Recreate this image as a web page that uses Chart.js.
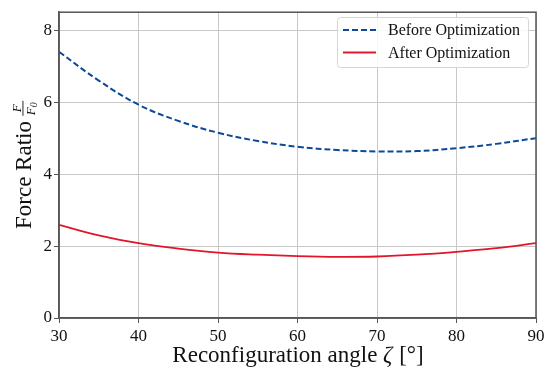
<!DOCTYPE html>
<html>
<head>
<meta charset="utf-8">
<script src="https://cdn.jsdelivr.net/npm/chart.js@4"></script>
<style>
  html, body { margin: 0; padding: 0; background: #fff; }
  #wrap { width: 550px; height: 374px; }
</style>
</head>
<body>
<div id="wrap"><canvas id="force"></canvas></div>
<script>
const angles = [30, 35, 40, 45, 50, 55, 60, 65, 70, 75, 80, 85, 90];
const beforeOpt = [7.40, 6.60, 5.93, 5.48, 5.15, 4.92, 4.76, 4.67, 4.63, 4.64, 4.72, 4.84, 5.00];
const afterOpt = [2.59, 2.30, 2.08, 1.93, 1.82, 1.76, 1.72, 1.70, 1.71, 1.76, 1.84, 1.94, 2.08];
const seriesNames = ['Before Optimization', 'After Optimization'];
const xTicks = [30, 40, 50, 60, 70, 80, 90];
const yTicks = [0, 2, 4, 6, 8];

const serif = '"Liberation Serif", "Times New Roman", serif';
const blue = '#0c4a97';
const red = '#e2162b';

// frame, axis titles and legend drawn by hand (fraction + italic zeta)
const decor = {
    id: 'decor',
    afterDraw(chart) {
        const { ctx, chartArea: a } = chart;
        ctx.save();
        ctx.strokeStyle = '#555';
        ctx.lineWidth = 1.5;
        ctx.strokeRect(a.left, a.top, a.right - a.left, a.bottom - a.top);

        // x title
        ctx.fillStyle = '#111';
        ctx.textBaseline = 'alphabetic';
        const p1 = 'Reconfiguration angle ', p2 = 'ζ', p3 = ' [°]';
        ctx.font = '23px ' + serif;
        const w1 = ctx.measureText(p1).width, w3 = ctx.measureText(p3).width;
        ctx.font = 'italic 23px ' + serif;
        const w2 = ctx.measureText(p2).width;
        let x = (a.left + a.right) / 2 - (w1 + w2 + w3) / 2;
        const yb = 362;
        ctx.font = '23px ' + serif;
        ctx.fillText(p1, x, yb);
        ctx.font = 'italic 23px ' + serif;
        ctx.fillText(p2, x + w1, yb);
        ctx.font = '23px ' + serif;
        ctx.fillText(p3, x + w1 + w2 + 1, yb);

        // y title
        ctx.save();
        ctx.translate(31, 229);
        ctx.rotate(-Math.PI / 2);
        ctx.font = '23px ' + serif;
        const t = 'Force Ratio ';
        ctx.fillText(t, 0, 0);
        const tw = ctx.measureText(t).width;
        ctx.font = 'italic 13px ' + serif;
        const fw = ctx.measureText('F').width;
        ctx.font = 'italic 10px ' + serif;
        const sw = ctx.measureText('0').width;
        const fracW = fw + sw + 1;
        const fx = tw;
        ctx.font = 'italic 13px ' + serif;
        ctx.fillText('F', fx + (fracW - fw) / 2, -10);
        ctx.fillText('F', fx, 4);
        ctx.font = 'italic 10px ' + serif;
        ctx.fillText('0', fx + fw, 6);
        ctx.fillRect(fx - 0.5, -8.5, fracW + 1, 0.9);
        ctx.restore();

        // legend
        const lx = 337, ly = 17, lw = 191, lh = 50;
        ctx.fillStyle = 'rgba(255,255,255,0.85)';
        ctx.strokeStyle = '#d6d6d6';
        ctx.lineWidth = 1;
        ctx.beginPath();
        ctx.roundRect(lx + 0.5, ly + 0.5, lw, lh, 3);
        ctx.fill();
        ctx.stroke();
        const rows = [[blue, [6, 3]], [red, []]];
        ctx.font = '16px ' + serif;
        ctx.textBaseline = 'middle';
        rows.forEach((r, i) => {
            const cy = ly + 13 + i * 22.5;
            ctx.strokeStyle = r[0];
            ctx.lineWidth = 2;
            ctx.setLineDash(r[1]);
            ctx.beginPath();
            ctx.moveTo(343, cy);
            ctx.lineTo(376, cy);
            ctx.stroke();
            ctx.setLineDash([]);
            ctx.fillStyle = '#111';
            ctx.fillText(seriesNames[i], 388, cy + 1);
        });
        ctx.restore();
    }
};

new Chart(document.getElementById('force'), {
    type: 'line',
    data: {
        datasets: [
            {
                label: seriesNames[0],
                data: angles.map((a, i) => ({ x: a, y: beforeOpt[i] })),
                borderColor: blue,
                borderWidth: 2,
                borderDash: [6, 3],
                pointRadius: 0,
                tension: 0.4,
                fill: false
            },
            {
                label: seriesNames[1],
                data: angles.map((a, i) => ({ x: a, y: afterOpt[i] })),
                borderColor: red,
                borderWidth: 1.8,
                pointRadius: 0,
                tension: 0.4,
                fill: false
            }
        ]
    },
    options: {
        responsive: true,
        maintainAspectRatio: false,
        animation: false,
        layout: { padding: { left: 0, right: 14, top: 8, bottom: 0 } },
        plugins: {
            legend: { display: false },
            tooltip: { enabled: false }
        },
        scales: {
            x: {
                type: 'linear',
                min: 30,
                max: 90,
                afterFit(s) { s.height = 56; },
                afterBuildTicks(s) { s.ticks = xTicks.map(v => ({ value: v })); },
                grid: { color: '#c8c8c8', lineWidth: 1, tickLength: 5, tickColor: '#555' },
                border: { color: '#555', width: 1.5 },
                ticks: {
                    color: '#111',
                    padding: 3,
                    font: { family: serif, size: 17 }
                }
            },
            y: {
                min: 0,
                max: 8.5,
                afterFit(s) { s.width = 59; },
                afterBuildTicks(s) { s.ticks = yTicks.map(v => ({ value: v })); },
                grid: { color: '#c8c8c8', lineWidth: 1, tickLength: 5, tickColor: '#555' },
                border: { color: '#555', width: 1.5 },
                ticks: {
                    color: '#111',
                    padding: 2,
                    font: { family: serif, size: 17 }
                }
            }
        }
    },
    plugins: [decor]
});
</script>
</body>
</html>
